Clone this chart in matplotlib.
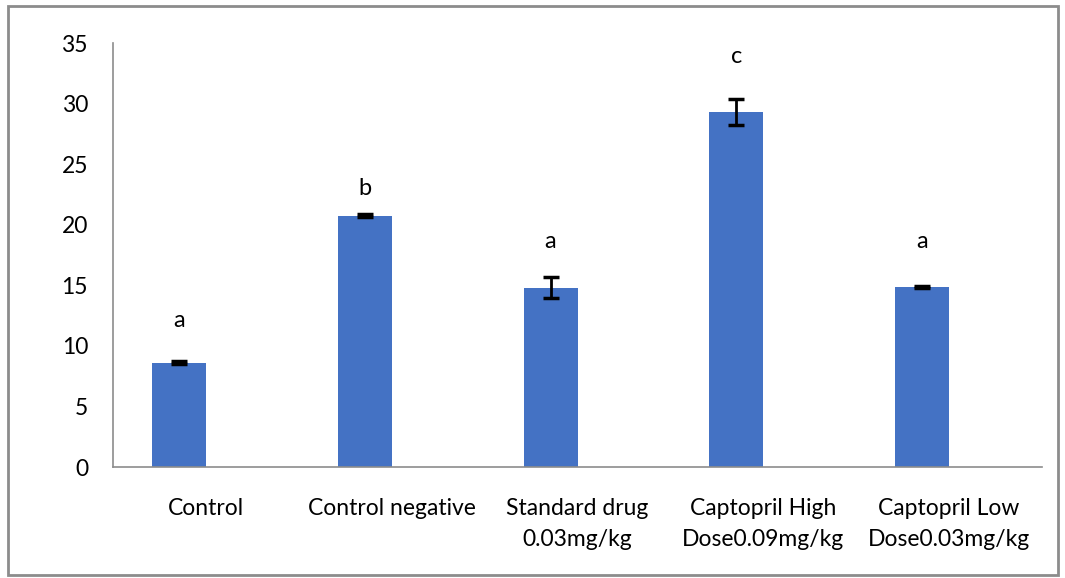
import matplotlib
matplotlib.use("Agg")
import matplotlib.pyplot as plt
from matplotlib.patches import Rectangle

categories = ["Control", "Control negative", "Standard drug\n0.03mg/kg",
              "Captopril High\nDose0.09mg/kg", "Captopril Low\nDose0.03mg/kg"]
values = [8.6, 20.75, 14.8, 29.3, 14.85]
errors = [0.12, 0.1, 0.85, 1.1, 0.1]
letters = ["a", "b", "a", "c", "a"]
letter_y = [12.1, 23.0, 18.6, 33.9, 18.6]
yticks = [0, 5, 10, 15, 20, 25, 30, 35]

plt.rcParams['font.family'] = ['Lato', 'DejaVu Sans']

fig = plt.figure(figsize=(10.65, 5.78), dpi=100)
ax = fig.add_axes([113/1065, 1 - 467/578, (1042-113)/1065, (467-43)/578])

x = list(range(len(categories)))
offset = -0.145
xb = [xi + offset for xi in x]
ax.bar(xb, values, width=0.29, color="#4472C4", zorder=2)
ax.errorbar(xb, values, yerr=errors, fmt="none", ecolor="black",
            elinewidth=2, capsize=6, capthick=2.5, zorder=3)
for xi, t, ly in zip(xb, letters, letter_y):
    ax.text(xi, ly, t, ha="center", va="center", fontsize=17, color="black")

ax.set_xlim(-0.5, len(categories) - 0.5)
ax.set_ylim(0, 35)
ax.set_yticks(yticks)
ax.set_xticks(x)
ax.set_xticklabels(categories, fontsize=16.5, linespacing=1.6)
ax.tick_params(axis="y", length=0, labelsize=16.5, pad=18)
ax.tick_params(axis="x", length=0, pad=22)
for s in ["top", "right"]:
    ax.spines[s].set_visible(False)
ax.spines["left"].set_color("#8c8c8c")
ax.spines["bottom"].set_color("#8c8c8c")
ax.spines["left"].set_linewidth(1.2)
ax.spines["bottom"].set_linewidth(1.2)

fig.patches.append(Rectangle((8/1065, 3/578), (1058-8)/1065, (572-3)/578,
                             transform=fig.transFigure, fill=False,
                             edgecolor="#8c8c8c", linewidth=2))

fig.savefig("out.png", dpi=100)
